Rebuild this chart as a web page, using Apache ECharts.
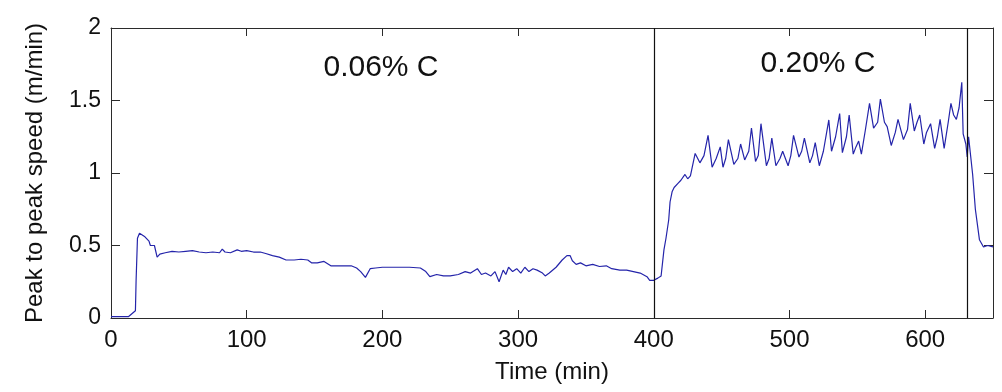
<!DOCTYPE html>
<html>
<head>
<meta charset="utf-8">
<script src="https://cdn.jsdelivr.net/npm/echarts@6/dist/echarts.min.js"></script>
<style>
html,body{margin:0;padding:0;background:#fff;}
#c{width:1002px;height:392px;}
</style>
</head>
<body>
<div id="c"></div>
<script>
// Time (min)
var timeMin = [0,13,18,18.5,19.5,21,25,28,29,32,34,36,40,45,50,55,60,65,70,75,80,82,84,88,93,96,100,105,110,114,119,124,129,135,140,145,148,152,157,162,170,177,181,184,187.5,191,195,200,210,220,228,232,235,240,245,250,256,261,265,270,273,276,280,283,286,289,291,293,296,299,302,305,308,311,314,318,320,323,328,332.5,336,338.4,340,342.8,346,350,355,360,365,369,375,380,385,390,395,397,400,403,405.4,407.5,409,411,412,413.5,415,418,420,423,425,427,430.5,434,437,440,443,446,449,451,453,455,459,462,464,467,470,472,475,477,479,483,485,487,490,493,495,499,501,503,507,509,511,515,517,519,522,525,529,531,534,537,539,542,544,547,549,551,553,556,559,562,565,567,570,572,575,578,580,584,587,589,592,594,596,599,601,604,607,609,611,614,617,619,621,623,625,627,628,630,631,632,633,635,637,640,643,646,650];
// Peak to peak speed (m/min)
var speed = [0.01,0.01,0.05,0.26,0.55,0.585,0.56,0.53,0.50,0.50,0.42,0.44,0.45,0.46,0.455,0.46,0.465,0.455,0.45,0.455,0.45,0.475,0.455,0.45,0.47,0.46,0.465,0.455,0.455,0.445,0.43,0.42,0.40,0.40,0.405,0.40,0.38,0.38,0.39,0.36,0.36,0.36,0.345,0.32,0.28,0.34,0.345,0.35,0.35,0.35,0.345,0.32,0.285,0.30,0.29,0.29,0.30,0.32,0.31,0.34,0.30,0.31,0.29,0.32,0.25,0.33,0.30,0.35,0.32,0.34,0.31,0.35,0.32,0.34,0.33,0.31,0.29,0.31,0.35,0.40,0.43,0.43,0.395,0.37,0.38,0.36,0.37,0.355,0.36,0.34,0.33,0.33,0.32,0.31,0.285,0.26,0.26,0.275,0.29,0.47,0.55,0.676,0.80,0.87,0.90,0.93,0.95,0.99,0.96,0.98,1.135,1.07,1.12,1.26,1.04,1.10,1.18,1.04,1.10,1.23,1.06,1.10,1.20,1.09,1.15,1.31,1.08,1.12,1.34,1.05,1.10,1.24,1.05,1.10,1.15,1.05,1.12,1.26,1.11,1.15,1.24,1.07,1.12,1.21,1.05,1.15,1.366,1.15,1.25,1.41,1.14,1.25,1.40,1.13,1.18,1.22,1.13,1.30,1.48,1.31,1.35,1.51,1.35,1.32,1.19,1.28,1.37,1.23,1.30,1.48,1.29,1.35,1.40,1.20,1.28,1.34,1.17,1.25,1.37,1.17,1.35,1.48,1.40,1.37,1.45,1.625,1.27,1.20,1.11,1.25,1.24,0.99,0.75,0.54,0.49,0.50,0.49];
var boundaries = [400, 631];
var regionLabels = ['0.06% C', '0.20% C'];
var regionLabelX = [381, 818];
var regionLabelY = [68, 64];

var pts = timeMin.map(function(t, i){ return [t, speed[i]]; });
var font = '"Liberation Sans", Arial, sans-serif';
var axisCol = '#2b2b2b';

var chart = echarts.init(document.getElementById('c'), null, {renderer:'canvas'});
chart.setOption({
  animation: false,
  backgroundColor: '#fff',
  grid: {left: 111, right: 9, top: 28, bottom: 74, containLabel: false},
  xAxis: [{
    type: 'value', min: 0, max: 650, interval: 100,
    name: 'Time (min)', nameLocation: 'middle', nameGap: 42,
    nameTextStyle: {fontFamily: font, fontSize: 24, color: '#111'},
    axisLine: {show: true, lineStyle: {color: axisCol, width: 1}},
    axisTick: {show: true, inside: true, length: 8, lineStyle: {color: axisCol}},
    axisLabel: {fontFamily: font, fontSize: 24, color: '#111', margin: 10, showMaxLabel: false},
    splitLine: {show: false}
  }, {
    type: 'value', min: 0, max: 650, interval: 100, position: 'top',
    axisLine: {show: true, onZero: false, lineStyle: {color: axisCol, width: 1}},
    axisTick: {show: true, inside: true, length: 8, lineStyle: {color: axisCol}},
    axisLabel: {show: false}, splitLine: {show: false}
  }],
  yAxis: [{
    type: 'value', min: 0, max: 2, interval: 0.5,
    name: 'Peak to peak speed (m/min)', nameLocation: 'middle', nameGap: 64, nameRotate: 90,
    nameTextStyle: {fontFamily: font, fontSize: 24, color: '#111'},
    axisLine: {show: true, lineStyle: {color: axisCol, width: 1}},
    axisTick: {show: true, inside: true, length: 9, lineStyle: {color: axisCol}},
    axisLabel: {fontFamily: font, fontSize: 23, color: '#111', margin: 10},
    splitLine: {show: false}
  }, {
    type: 'value', min: 0, max: 2, interval: 0.5, position: 'right',
    axisLine: {show: true, onZero: false, lineStyle: {color: axisCol, width: 1}},
    axisTick: {show: true, inside: true, length: 9, lineStyle: {color: axisCol}},
    axisLabel: {show: false}, splitLine: {show: false}
  }],
  series: [{
    type: 'line',
    data: pts,
    showSymbol: false,
    symbol: 'none',
    lineStyle: {color: '#2424aa', width: 1.2},
    markLine: {
      silent: true,
      symbol: ['none', 'none'],
      label: {show: false},
      lineStyle: {color: '#111', type: 'solid', width: 1.2},
      data: boundaries.map(function(b){ return {xAxis: b}; })
    }
  }],
  graphic: regionLabels.map(function(txt, i){
    return {
      type: 'text', x: regionLabelX[i], y: regionLabelY[i],
      style: {text: txt, font: '30px ' + font, fill: '#111', textAlign: 'center', textVerticalAlign: 'middle'}
    };
  })
});
</script>
</body>
</html>
